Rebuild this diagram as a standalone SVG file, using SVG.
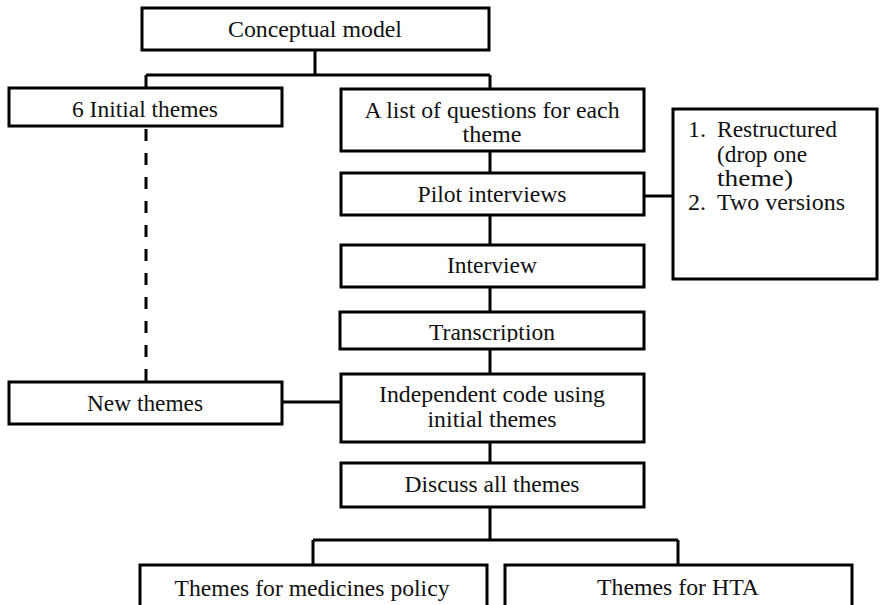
<svg xmlns="http://www.w3.org/2000/svg" width="880" height="605" viewBox="0 0 880 605">
<style>
.box{fill:#fff;stroke:#000;stroke-width:3}
.ln{fill:none;stroke:#000;stroke-width:3}
.dash{fill:none;stroke:#000;stroke-width:3;stroke-dasharray:12 12}
text{font-family:"Liberation Serif","Times New Roman",serif;font-size:24px;fill:#111}
.c{text-anchor:middle}
</style>
<defs><clipPath id="clipT"><rect x="340" y="312" width="304" height="30"/></clipPath></defs>
<rect width="880" height="605" fill="#fff"/>
<g id="connectors">
<path class="ln" d="M315 50V75M146 75H490M146 75V88M490 75V89"/>
<path class="ln" d="M490 151V173M490 215V245M490 287V312M490 349V374M490 442V463M490 507V540M313 540H678M313 540V565M678 540V565"/>
<path class="ln" d="M644 196H673"/>
<path class="ln" d="M282 402H341"/>
<path class="dash" d="M146 129V382"/>
</g>
<g id="n-conceptual"><rect class="box" x="142" y="8" width="347" height="42"/><text class="c" x="315" y="37" textLength="174" lengthAdjust="spacingAndGlyphs">Conceptual model</text></g>
<g id="n-initial"><rect class="box" x="9" y="88" width="273" height="38"/><text class="c" x="145" y="117" textLength="146" lengthAdjust="spacingAndGlyphs">6 Initial themes</text></g>
<g id="n-list"><rect class="box" x="341" y="89" width="303" height="62"/><text class="c" x="492" y="118" textLength="255" lengthAdjust="spacingAndGlyphs">A list of questions for each</text><text class="c" x="492" y="142" textLength="59" lengthAdjust="spacingAndGlyphs">theme</text></g>
<g id="n-pilot"><rect class="box" x="341" y="173" width="303" height="42"/><text class="c" x="492" y="202" textLength="149" lengthAdjust="spacingAndGlyphs">Pilot interviews</text></g>
<g id="n-notes"><rect class="box" x="673" y="109" width="204" height="170"/>
<text x="688" y="137">1.</text><text x="717" y="137" textLength="120" lengthAdjust="spacingAndGlyphs">Restructured</text>
<text x="717" y="162" textLength="90" lengthAdjust="spacingAndGlyphs">(drop one</text>
<text x="717" y="186" textLength="76" lengthAdjust="spacingAndGlyphs">theme)</text>
<text x="688" y="210">2.</text><text x="717" y="210" textLength="128" lengthAdjust="spacingAndGlyphs">Two versions</text></g>
<g id="n-interview"><rect class="box" x="341" y="245" width="303" height="42"/><text class="c" x="492" y="273" textLength="90" lengthAdjust="spacingAndGlyphs">Interview</text></g>
<g id="n-transcription"><rect class="box" x="340" y="312" width="304" height="37"/><text class="c" x="492" y="340" textLength="126" lengthAdjust="spacingAndGlyphs" clip-path="url(#clipT)">Transcription</text></g>
<g id="n-code"><rect class="box" x="341" y="374" width="303" height="68"/><text class="c" x="492" y="402" textLength="226" lengthAdjust="spacingAndGlyphs">Independent code using</text><text class="c" x="492" y="427" textLength="129" lengthAdjust="spacingAndGlyphs">initial themes</text></g>
<g id="n-new"><rect class="box" x="9" y="382" width="273" height="42"/><text class="c" x="145" y="411" textLength="116" lengthAdjust="spacingAndGlyphs">New themes</text></g>
<g id="n-discuss"><rect class="box" x="341" y="463" width="303" height="44"/><text class="c" x="492" y="492" textLength="175" lengthAdjust="spacingAndGlyphs">Discuss all themes</text></g>
<g id="n-medicines"><rect class="box" x="140" y="565" width="347" height="60"/><text class="c" x="312" y="596" textLength="275" lengthAdjust="spacingAndGlyphs">Themes for medicines policy</text></g>
<g id="n-hta"><rect class="box" x="505" y="565" width="347" height="60"/><text class="c" x="678" y="595" textLength="162" lengthAdjust="spacingAndGlyphs">Themes for HTA</text></g>
</svg>
